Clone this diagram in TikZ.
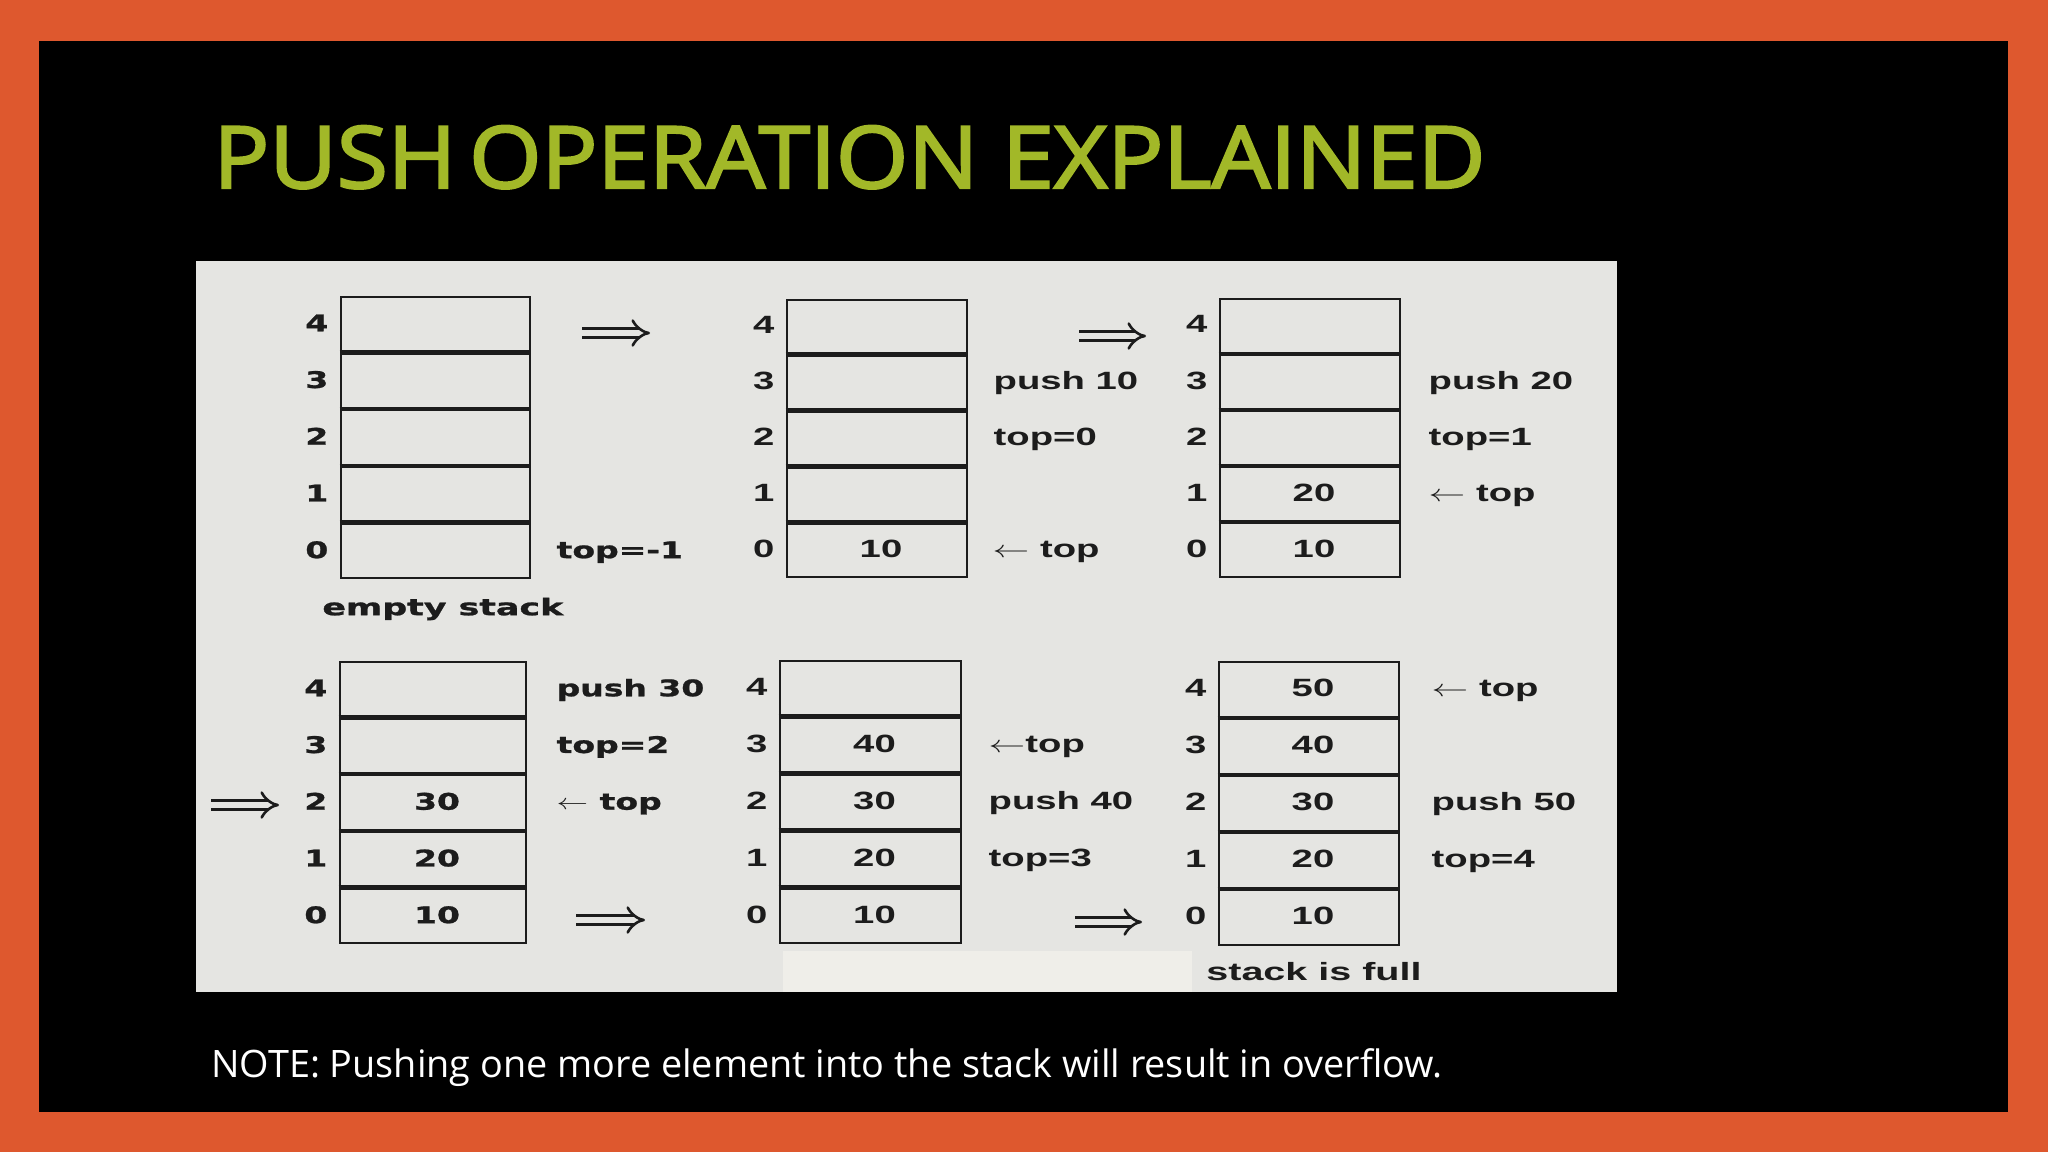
\documentclass[tikz,border=0pt]{standalone}
\usepackage{fontspec}
\usepackage{graphicx}
\usetikzlibrary{arrows.meta,calc,fit}
\newfontfamily\widefont{DejaVu Sans}[BoldFeatures={FakeBold=1}]
\newfontfamily\narfont{Liberation Sans}
\newfontfamily\slidefont{Open Sans}
\newfontfamily\titlefont{Open Sans}[FakeBold=2.6]
\definecolor{slideorange}{RGB}{222,88,46}
\definecolor{titlegreen}{RGB}{162,184,40}
\definecolor{paper}{RGB}{229,229,226}
\definecolor{patchc}{RGB}{239,238,233}
\definecolor{ink}{RGB}{28,28,28}
\newcommand\W[1]{\scalebox{1.44}[1]{#1}}
\newcommand\Nn[1]{\scalebox{1.53}[1]{#1}}
\newcommand\drawstack[7]{%
  \node[stackbox, fit={(#2,#3) (#4,#5)}] (#1) {};
  \foreach \i in {1,...,4}{
    \draw[divider] ($(#1.north west)!\i/5!(#1.south west)$) -- ($(#1.north east)!\i/5!(#1.south east)$);
  }
  \foreach \r in {0,...,4}{
    \coordinate (#1r\r) at ($(#1.north)!{(9-2*\r)/10}!(#1.south)$);
    \coordinate (#1L\r) at ($(#1.north west)!{(9-2*\r)/10}!(#1.south west)$);
    \coordinate (#1R\r) at ($(#1.north east)!{(9-2*\r)/10}!(#1.south east)$);
    \node[#6, anchor=east] (#1i\r) at ($(#1L\r)+(-11,0)$) {#7{\r}};
  }
}
\newcommand\val[5]{\node[#4] (#1v#2) at ($(#1r#2)+(4,0)$) {#5{#3}};}
\newcommand\lab[6]{\node[#5, anchor=west] (#1) at ($(#2)+(#3,0)$) {#6{#4}};}
\begin{document}
\begin{tikzpicture}[x=0.5pt,y=-0.5pt,
  wtext/.style={font=\widefont\bfseries\fontsize{11.45}{12}\selectfont, text=ink, inner sep=0pt, text height=0.72em, text depth=0pt},
  ntext/.style={font=\narfont\bfseries\fontsize{12.5}{13}\selectfont, text=ink, inner sep=0pt, text height=0.72em, text depth=0pt},
  stackbox/.style={draw=ink, line width=1.3pt, inner sep=0pt},
  divider/.style={draw=ink, line width=2.2pt},
  dblarrow/.style={draw=ink, line width=1.3pt, double=paper, double distance=3.4pt, -{Implies}},
  titletext/.style={font=\titlefont\fontsize{43}{46}\selectfont, text=titlegreen, inner sep=0pt},
  notetext/.style={font=\slidefont\fontsize{18.9}{20}\selectfont, text=white, inner sep=0pt}]
\useasboundingbox (0,0) rectangle (2048,1152);
\fill[slideorange] (0,0) rectangle (2048,1152);
\fill[black] (39,41) rectangle (2008,1112);
\node[titletext, anchor=base west] (title) at (213,188) {\resizebox{636pt}{\height}{PUSH\hspace{-0.12em} OPERATION EXPLAINED}};
\fill[paper] (196,261) rectangle (1617,992);
\fill[patchc] (783,951) rectangle (1192,992);
% stacks
\drawstack{s1}{341}{297}{530}{578}{wtext}{\W}
\drawstack{s2}{787}{300}{967}{577}{ntext}{\Nn}
\drawstack{s3}{1220}{299}{1400}{577}{ntext}{\Nn}
\drawstack{s4}{340}{662}{526}{943}{wtext}{\W}
\drawstack{s5}{780}{661}{961}{943}{ntext}{\Nn}
\drawstack{s6}{1219}{662}{1399}{945}{ntext}{\Nn}
% values
\val{s2}{0}{10}{ntext}{\Nn}
\val{s3}{0}{10}{ntext}{\Nn}
\val{s3}{1}{20}{ntext}{\Nn}
\val{s4}{0}{10}{wtext}{\W}
\val{s4}{1}{20}{wtext}{\W}
\val{s4}{2}{30}{wtext}{\W}
\val{s5}{0}{10}{ntext}{\Nn}
\val{s5}{1}{20}{ntext}{\Nn}
\val{s5}{2}{30}{ntext}{\Nn}
\val{s5}{3}{40}{ntext}{\Nn}
\val{s6}{0}{10}{ntext}{\Nn}
\val{s6}{1}{20}{ntext}{\Nn}
\val{s6}{2}{30}{ntext}{\Nn}
\val{s6}{3}{40}{ntext}{\Nn}
\val{s6}{4}{50}{ntext}{\Nn}
% side labels
\lab{l1a}{s1R0}{25}{top=-1}{wtext}{\W}
\lab{l2a}{s2R3}{25}{push 10}{ntext}{\Nn}
\lab{l2b}{s2R2}{25}{top=0}{ntext}{\Nn}
\lab{l2c}{s2R0}{24}{$\leftarrow$ top}{ntext}{\Nn}
\lab{l3a}{s3R3}{27}{push 20}{ntext}{\Nn}
\lab{l3b}{s3R2}{27}{top=1}{ntext}{\Nn}
\lab{l3c}{s3R1}{27}{$\leftarrow$ top}{ntext}{\Nn}
\lab{l4a}{s4R4}{29}{push 30}{wtext}{\W}
\lab{l4b}{s4R3}{29}{top=2}{wtext}{\W}
\lab{l4c}{s4R2}{29}{$\leftarrow$ top}{wtext}{\W}
\lab{l5a}{s5R3}{26}{$\leftarrow$top}{ntext}{\Nn}
\lab{l5b}{s5R2}{26}{push 40}{ntext}{\Nn}
\lab{l5c}{s5R1}{26}{top=3}{ntext}{\Nn}
\lab{l6a}{s6R4}{31}{$\leftarrow$ top}{ntext}{\Nn}
\lab{l6b}{s6R2}{31}{push 50}{ntext}{\Nn}
\lab{l6c}{s6R1}{31}{top=4}{ntext}{\Nn}
\node[wtext, anchor=west] (empty) at (322,608) {\scalebox{1.52}[1]{empty stack}};
\node[ntext, anchor=west] (full) at (1206,973) {\scalebox{1.58}[1]{stack is full}};
% double arrows
\coordinate (a1s) at (582,333); \coordinate (a1e) at (650,333);
\coordinate (a2s) at (1079,336); \coordinate (a2e) at (1146,336);
\coordinate (a3s) at (211,805); \coordinate (a3e) at (279,805);
\coordinate (a4s) at (576,920); \coordinate (a4e) at (645,920);
\coordinate (a5s) at (1075,922); \coordinate (a5e) at (1142,922);
\draw[dblarrow] (a1s) -- (a1e);
\draw[dblarrow] (a2s) -- (a2e);
\draw[dblarrow] (a3s) -- (a3e);
\draw[dblarrow] (a4s) -- (a4e);
\draw[dblarrow] (a5s) -- (a5e);
\node[notetext, anchor=base west] (note) at (211,1077) {\resizebox{615.5pt}{\height}{NOTE: Pushing one more element into the stack will result in overflow.}};
\end{tikzpicture}
\end{document}
